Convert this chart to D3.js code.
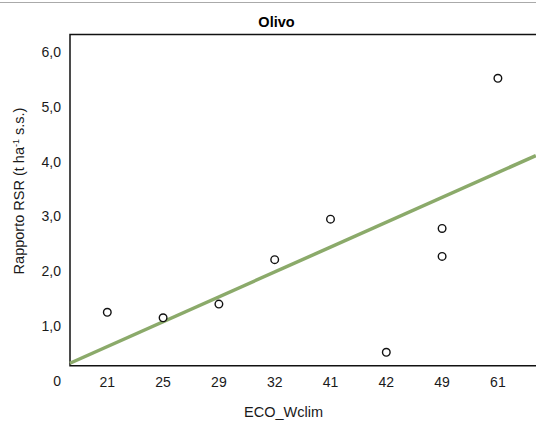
<!DOCTYPE html>
<html>
<head>
<meta charset="utf-8">
<script src="https://cdn.jsdelivr.net/npm/d3@7"></script>
<style>
  body { margin: 0; background: #fff; }
  svg { display: block; font-family: "Liberation Sans", Arial, sans-serif; }
  .tick_label { font-size: 14px; fill: #1a1a1a; }
</style>
</head>
<body>
<svg id="chart" width="536" height="421"></svg>
<script>
// categories on the x axis (placed at positions 1..n)
let categories = ["21", "25", "29", "32", "41", "42", "49", "61"];
// observed points: category and RSR value
let pointCats = ["21", "25", "29", "32", "41", "42", "49", "49", "61"];
let pointVals = [1.25, 1.15, 1.40, 2.21, 2.95, 0.52, 2.78, 2.27, 5.52];
// trend line (x in category positions)
let trendX = [0.33, 8.68];
let trendY = [0.32, 4.11];
let yTicks = [0, 1, 2, 3, 4, 5, 6];

let svg = d3.select("#chart");

let plot = {left: 70, top: 34.5, right: 560, bottom: 365.7};

let yScale = d3.scaleLinear()
    .domain([0, 6])
    .range([380.8, 52]);

let xScale = d3.scaleLinear()
    .domain([0, 8])
    .range([51.5, 497.9]);

let catPos = c => categories.indexOf(c) + 1;

// thin grey separator at the top
svg.append("line")
    .attr("x1", 0).attr("x2", 536)
    .attr("y1", 2.5).attr("y2", 2.5)
    .attr("stroke", "#aaa")
    .attr("stroke-width", 1);

// title
svg.append("text")
    .attr("x", 276.5)
    .attr("y", 27)
    .attr("text-anchor", "middle")
    .attr("font-size", "14.5px")
    .attr("font-weight", "bold")
    .text("Olivo");

// plot frame
svg.append("path")
    .attr("d", `M${plot.right},${plot.top}H${plot.left}V${plot.bottom}H${plot.right}`)
    .attr("fill", "none")
    .attr("stroke", "#111")
    .attr("stroke-width", 1.5);

// y tick labels
svg.append("g")
    .selectAll("text")
    .data(yTicks)
    .enter()
    .append("text")
    .attr("class", "tick_label")
    .attr("x", 61)
    .attr("y", d => yScale(d))
    .attr("dy", "0.35em")
    .attr("text-anchor", "end")
    .text(d => d === 0 ? "0" : d3.format(".1f")(d).replace(".", ","));

// x tick labels
svg.append("g")
    .selectAll("text")
    .data(categories)
    .enter()
    .append("text")
    .attr("class", "tick_label")
    .attr("x", d => xScale(catPos(d)))
    .attr("y", 381.7)
    .attr("dy", "0.35em")
    .attr("text-anchor", "middle")
    .text(d => d);

// axis titles
svg.append("text")
    .attr("x", 283.5)
    .attr("y", 416.5)
    .attr("text-anchor", "middle")
    .attr("font-size", "14.5px")
    .attr("fill", "#1a1a1a")
    .text("ECO_Wclim");

let yTitle = svg.append("text")
    .attr("transform", "translate(24,191) rotate(-90)")
    .attr("text-anchor", "middle")
    .attr("font-size", "14.5px")
    .attr("fill", "#1a1a1a");
yTitle.append("tspan").text("Rapporto RSR (t ha");
yTitle.append("tspan").attr("font-size", "9px").attr("dy", "-5").text("-1");
yTitle.append("tspan").attr("dy", "5").text(" s.s.)");

// trend line
let line = d3.line()
    .x(d => xScale(d[0]))
    .y(d => yScale(d[1]));

svg.append("path")
    .attr("d", line(d3.zip(trendX, trendY)))
    .attr("fill", "none")
    .attr("stroke", "#8BAA6A")
    .attr("stroke-width", 3.5);

// points
svg.append("g")
    .selectAll("circle")
    .data(d3.zip(pointCats, pointVals))
    .enter()
    .append("circle")
    .attr("cx", d => xScale(catPos(d[0])))
    .attr("cy", d => yScale(d[1]))
    .attr("r", 3.8)
    .attr("fill", "#fff")
    .attr("stroke", "#111")
    .attr("stroke-width", 1.4);
</script>
</body>
</html>
